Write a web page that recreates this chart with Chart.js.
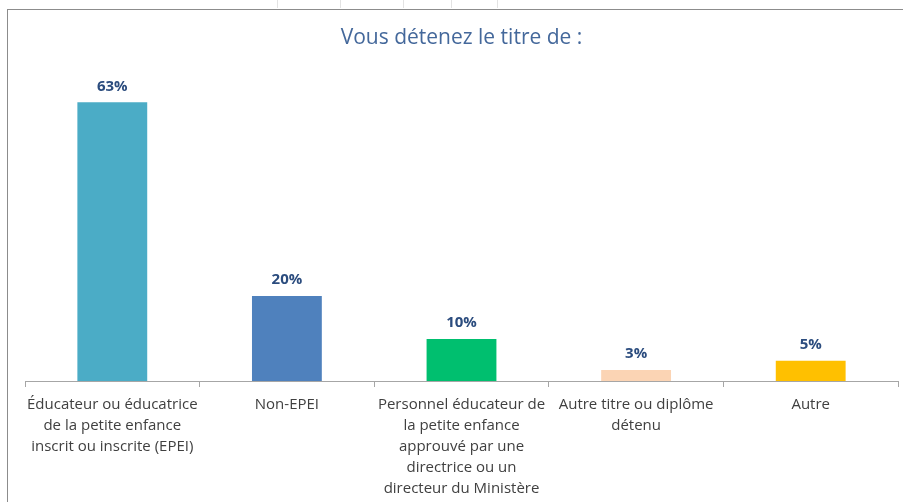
<!DOCTYPE html>
<html>
<head>
<meta charset="utf-8">
<script src="https://cdn.jsdelivr.net/npm/chart.js@4/dist/chart.umd.min.js"></script>
<style>
  html, body { margin: 0; padding: 0; background: #fff; }
  #wrap { position: relative; width: 903px; height: 502px; }
  canvas { position: absolute; left: 0; top: 0; }
  .bl { position: absolute; background: #8c8c8c; }
  .sg { position: absolute; background: #e3e3e3; width: 1px; top: 0; height: 8px; }
</style>
</head>
<body>
<div id="wrap">
  <div class="bl" style="left:7px;top:9px;width:896px;height:1px;"></div>
  <div class="bl" style="left:7px;top:9px;width:1px;height:493px;"></div>
  <div class="sg" style="left:277px"></div>
  <div class="sg" style="left:340px"></div>
  <div class="sg" style="left:403px"></div>
  <div class="sg" style="left:451px"></div>
  <div class="sg" style="left:497px"></div>
  <canvas id="c" width="903" height="502"></canvas>
</div>
<script>
const titleText = "Vous détenez le titre de :";
const categories = [
  ["Éducateur ou éducatrice", "de la petite enfance", "inscrit ou inscrite (EPEI)"],
  "Non-EPEI",
  ["Personnel éducateur de", "la petite enfance", "approuvé par une", "directrice ou un", "directeur du Ministère"],
  ["Autre titre ou diplôme", "détenu"],
  "Autre"
];
const values = [63, 19.2, 9.5, 2.5, 4.6];
const valueLabels = ["63%", "20%", "10%", "3%", "5%"];
const barColors = ["#4BACC6", "#4F81BD", "#00BF6F", "#FBD4B4", "#FFC000"];

const FONT = "'Open Sans', 'Liberation Sans', Arial, sans-serif";

const labelPlugin = {
  id: 'valueLabels',
  afterDatasetsDraw(chart) {
    const ctx = chart.ctx;
    const meta = chart.getDatasetMeta(0);
    ctx.save();
    ctx.font = "bold 15px " + FONT;
    ctx.fillStyle = "#2B4C7E";
    ctx.textAlign = "center";
    ctx.textBaseline = "middle";
    meta.data.forEach((bar, i) => {
      ctx.fillText(valueLabels[i], bar.x, bar.y - 16);
    });
    ctx.restore();
  }
};

new Chart(document.getElementById('c'), {
  type: 'bar',
  data: {
    labels: categories,
    datasets: [{
      data: values,
      backgroundColor: barColors,
      borderWidth: 0,
      categoryPercentage: 1.0,
      barPercentage: 0.4
    }]
  },
  options: {
    responsive: false,
    animation: false,
    devicePixelRatio: 1,
    layout: { padding: { left: 25, right: 5, top: 0, bottom: 0 } },
    plugins: {
      legend: { display: false },
      tooltip: { enabled: false },
      title: {
        display: true,
        text: titleText,
        color: "#44689B",
        font: { family: FONT, size: 21, weight: 'normal', lineHeight: 1.2 },
        padding: { top: 25, bottom: 30 }
      }
    },
    scales: {
      x: {
        offset: true,
        grid: { display: true, offset: true, drawOnChartArea: false, color: "#A6A6A6", tickLength: 6 },
        border: { display: true, color: "#A6A6A6", width: 1 },
        ticks: {
          color: "#404040",
          font: { family: FONT, size: 15, lineHeight: 1.4 },
          padding: 7,
          maxRotation: 0,
          autoSkip: false
        },
        afterFit(scale) { scale.height = 121; }
      },
      y: {
        display: false,
        min: 0,
        max: 68
      }
    }
  },
  plugins: [labelPlugin]
});
</script>
</body>
</html>
